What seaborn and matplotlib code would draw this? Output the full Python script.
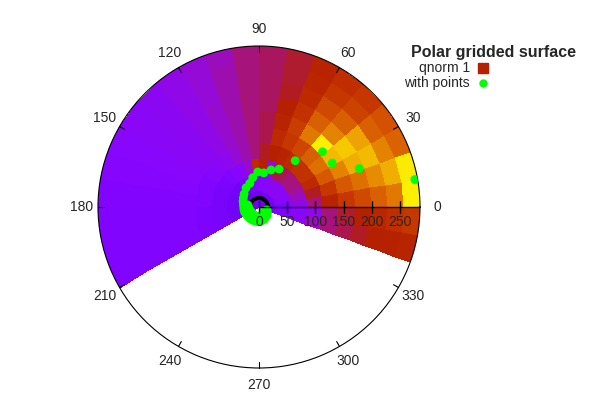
import numpy as np
import matplotlib
matplotlib.use("Agg")
import matplotlib.pyplot as plt
from matplotlib.colors import ListedColormap
from matplotlib.lines import Line2D
import seaborn as sns

sns.set_style("white")
plt.rcParams['font.family'] = ['Liberation Sans', 'DejaVu Sans']

# gridded surface: angular bins (deg) x radial bins
theta_edges = [-20, -10, 0, 10, 20, 30, 40, 50, 60, 70, 80, 90, 100,
               110, 120, 130, 140, 150, 160, 170, 180, 190, 200, 210]
r_edges = [0, 28.5, 57, 85.5, 114, 142.5, 171, 199.5, 228, 256.5, 285]

# one row per angular bin, inner -> outer radius (palette fraction)
surface = [
    [0.20, 0.25, 0.30, 0.36, 0.42, 0.45, 0.48, 0.50, 0.51, 0.52],  # -15
    [0.20, 0.24, 0.28, 0.32, 0.42, 0.47, 0.50, 0.53, 0.56, 0.60],  # -5
    [0.20, 0.26, 0.32, 0.42, 0.52, 0.60, 0.66, 0.72, 0.78, 0.98],  # 5
    [0.21, 0.28, 0.36, 0.48, 0.60, 0.70, 0.76, 0.82, 0.88, 0.97],  # 15
    [0.21, 0.30, 0.40, 0.55, 0.70, 0.80, 0.88, 0.90, 0.80, 0.73],  # 25
    [0.21, 0.30, 0.42, 0.58, 0.76, 0.90, 0.92, 0.86, 0.72, 0.68],  # 35
    [0.21, 0.30, 0.42, 0.58, 0.72, 0.98, 0.80, 0.72, 0.64, 0.60],  # 45
    [0.21, 0.30, 0.45, 0.55, 0.65, 0.78, 0.72, 0.66, 0.60, 0.56],  # 55
    [0.21, 0.30, 0.45, 0.52, 0.60, 0.62, 0.58, 0.55, 0.53, 0.52],  # 65
    [0.20, 0.28, 0.33, 0.50, 0.55, 0.52, 0.50, 0.48, 0.47, 0.47],  # 75
    [0.20, 0.27, 0.50, 0.48, 0.45, 0.45, 0.44, 0.44, 0.44, 0.44],  # 85
    [0.20, 0.26, 0.55, 0.42, 0.42, 0.42, 0.42, 0.42, 0.42, 0.42],  # 95
    [0.20, 0.24, 0.35, 0.38, 0.38, 0.38, 0.38, 0.38, 0.38, 0.37],  # 105
    [0.20, 0.23, 0.30, 0.34, 0.35, 0.35, 0.35, 0.34, 0.34, 0.34],  # 115
    [0.19, 0.22, 0.27, 0.31, 0.32, 0.32, 0.32, 0.32, 0.32, 0.32],  # 125
    [0.19, 0.21, 0.25, 0.29, 0.30, 0.30, 0.30, 0.30, 0.30, 0.30],  # 135
    [0.19, 0.21, 0.24, 0.27, 0.29, 0.29, 0.29, 0.29, 0.29, 0.29],  # 145
    [0.19, 0.21, 0.23, 0.26, 0.28, 0.28, 0.28, 0.28, 0.28, 0.28],  # 155
    [0.19, 0.21, 0.23, 0.25, 0.27, 0.27, 0.27, 0.27, 0.27, 0.27],  # 165
    [0.19, 0.21, 0.23, 0.25, 0.26, 0.26, 0.26, 0.26, 0.26, 0.26],  # 175
    [0.19, 0.21, 0.23, 0.24, 0.25, 0.25, 0.25, 0.25, 0.25, 0.25],  # 185
    [0.19, 0.21, 0.23, 0.24, 0.25, 0.25, 0.25, 0.25, 0.25, 0.25],  # 195
    [0.19, 0.21, 0.23, 0.24, 0.25, 0.25, 0.25, 0.25, 0.25, 0.25],  # 205
]

# scattered data points (theta deg, r)
pt_theta = [10, 21, 31, 41, 52, 62, 72, 82, 92, 102, 111, 124, 139,
            150, 160, 170, 180, 190, 200, 210, 220, 230, 240, 250, 260,
            270, 280, 290, 300, 310, 320, 330, 340,
            170, 185, 200, 215, 230, 245, 260, 275, 290, 305, 320]
pt_r = [280, 190, 151, 149, 104, 76, 69, 61, 62, 53, 45, 41, 35,
        32, 30, 28, 27, 27, 27, 26, 26, 26, 26, 26, 26,
        26, 25, 24, 22, 21, 19, 17, 15,
        20, 18, 17, 16, 16, 17, 17, 16, 15, 13, 11]

r_ticks = [0, 50, 100, 150, 200, 250]
theta_ticks = [0, 30, 60, 90, 120, 150, 180, 210, 240, 270, 300, 330]
rmax = 285

# gnuplot default palette (rgbformulae 7,5,15)
x = np.linspace(0, 1, 256)
cmap = ListedColormap(np.column_stack([np.sqrt(x), x ** 3,
                                       np.clip(np.sin(2 * np.pi * x), 0, 1)]))

fig = plt.figure(figsize=(6, 4), dpi=100)
ax = fig.add_axes([0.1633, 0.08, 0.5367, 0.805], projection='polar')

C = np.array(surface).T
ax.pcolormesh(np.deg2rad(theta_edges), r_edges, C, cmap=cmap, vmin=0, vmax=1,
              shading='flat', antialiased=False, linewidth=0)

sns.scatterplot(x=np.deg2rad(pt_theta), y=pt_r, ax=ax, color='#00ff00',
                s=40, edgecolor='none', zorder=5, legend=False)

# small black arc at origin
arc = np.linspace(0, np.pi, 40)
ax.plot(arc, np.full_like(arc, 16), color='black', lw=3, zorder=4)

ax.set_ylim(0, rmax)
ax.grid(False)
ax.set_xticks([])
ax.set_yticks([])
ax.spines['polar'].set_linewidth(0.8)
ax.spines['polar'].set_color('black')

# radial axis along theta = 0
ax.plot([0, 0], [0, rmax], color='black', lw=1, zorder=6)
ax.plot(np.zeros(len(r_ticks)), r_ticks, ls='none', marker='|', ms=9,
        mew=1, color='black', zorder=6)
for r in r_ticks:
    ax.annotate(str(r), xy=(0, r), xytext=(0, -11), textcoords='offset points',
                ha='center', va='center', fontsize=10, zorder=7)

for t in theta_ticks:
    th = np.deg2rad(t)
    ax.plot([th, th], [rmax * 0.965, rmax], color='black', lw=0.8,
            zorder=6, clip_on=False)
    ax.text(th, rmax * 1.105, str(t), ha='center', va='center',
            fontsize=10, clip_on=False)

# key
fig.text(0.823, 0.8675, 'Polar gridded surface', ha='center', va='center',
         fontsize=11.5, fontweight='bold')
fig.text(0.783, 0.830, 'qnorm 1', ha='right', va='center', fontsize=10)
fig.text(0.783, 0.7925, 'with points', ha='right', va='center', fontsize=10)
fig.add_artist(Line2D([0.805], [0.830], marker='s', ms=6.5, color=cmap(0.5),
                      ls='none', transform=fig.transFigure))
fig.add_artist(Line2D([0.805], [0.7925], marker='o', ms=5, color='#00ff00',
                      ls='none', transform=fig.transFigure))

fig.savefig('out.png', dpi=100)
